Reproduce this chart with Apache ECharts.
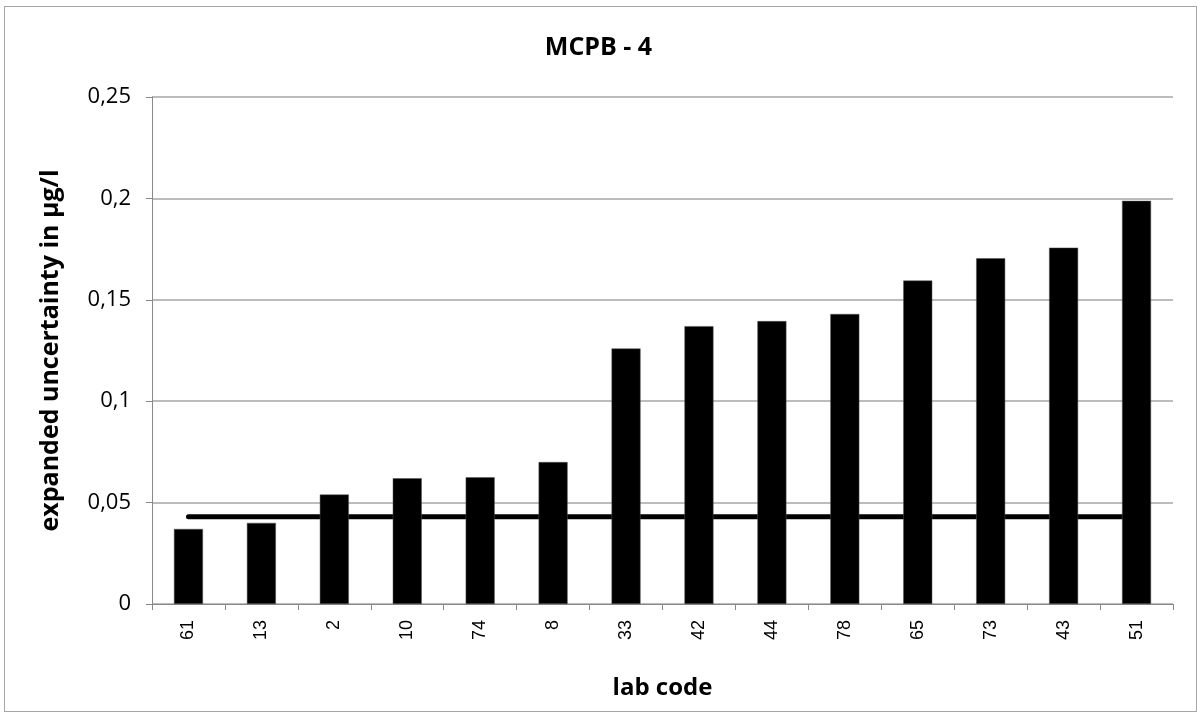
<!DOCTYPE html>
<html>
<head>
<meta charset="utf-8">
<script src="https://cdn.jsdelivr.net/npm/echarts@6/dist/echarts.min.js"></script>
<style>
  html, body { margin: 0; padding: 0; background: #fff; }
  #frame { position: absolute; left: 4px; top: 6px; width: 1191px; height: 704px; border: 1px solid #a6a6a6; }
  #chart { position: absolute; left: 0; top: 0; width: 1197px; height: 716px; }
</style>
</head>
<body>
<div id="frame"></div>
<div id="chart"></div>
<script>
// lab codes, sorted by uncertainty
const labCodes = ['61', '13', '2', '10', '74', '8', '33', '42', '44', '78', '65', '73', '43', '51'];
// expanded uncertainty in µg/l
const uncertainty = [0.037, 0.040, 0.054, 0.062, 0.0625, 0.070, 0.126, 0.137, 0.1395, 0.143, 0.1595, 0.1705, 0.1757, 0.1988];
// reference level drawn as a flat line
const refLine = [0.043, 0.043, 0.043, 0.043, 0.043, 0.043, 0.043, 0.043, 0.043, 0.043, 0.043, 0.043, 0.043, 0.043];
const yTicks = [0, 0.05, 0.1, 0.15, 0.2, 0.25];

let chart = echarts.init(document.getElementById('chart'));

const option = {
    animation: false,
    title: {
        text: 'MCPB - 4',
        left: 'center',
        top: 30,
        textStyle: { fontFamily: 'Open Sans', fontWeight: 'bold', fontSize: 25, color: '#000' }
    },
    grid: { left: 152, right: 24, top: 97, bottom: 112 },
    xAxis: {
        type: 'category',
        data: labCodes,
        name: 'lab code',
        nameLocation: 'middle',
        nameGap: 72,
        nameTextStyle: { fontFamily: 'Open Sans', fontWeight: 'bold', fontSize: 24, color: '#000' },
        axisLine: { lineStyle: { color: '#898989', width: 1 } },
        axisTick: { show: true, length: 6, alignWithLabel: false, lineStyle: { color: '#898989' } },
        axisLabel: { rotate: 90, margin: 16, fontFamily: 'Liberation Sans', fontSize: 18, color: '#000' }
    },
    yAxis: {
        type: 'value',
        min: 0,
        max: 0.25,
        interval: 0.05,
        name: 'expanded uncertainty in µg/l',
        nameLocation: 'middle',
        nameGap: 89,
        nameTextStyle: { fontFamily: 'Open Sans', fontWeight: 'bold', fontSize: 25, color: '#000' },
        axisLine: { show: true, lineStyle: { color: '#898989', width: 1 } },
        axisTick: { show: true, length: 6, lineStyle: { color: '#898989' } },
        splitLine: { lineStyle: { color: '#a6a6a6', width: 1.5 } },
        axisLabel: {
            margin: 21,
            fontFamily: 'Open Sans',
            fontSize: 22,
            color: '#000',
            formatter: v => (yTicks.includes(v) ? String(v).replace('.', ',') : '')
        }
    },
    series: [
        {
            name: 'reference',
            type: 'line',
            data: refLine,
            symbol: 'none',
            z: 1,
            lineStyle: { color: '#000', width: 5, cap: 'round' }
        },
        {
            name: 'uncertainty',
            type: 'bar',
            data: uncertainty,
            barWidth: 29,
            z: 2,
            itemStyle: { color: '#000', borderColor: '#555', borderWidth: 0.5 }
        }
    ]
};
chart.setOption(option);
</script>
</body>
</html>
